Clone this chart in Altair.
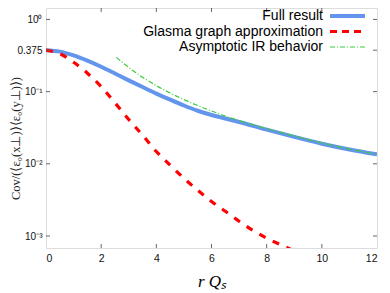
import altair as alt
import pandas as pd

# ---- data ----
full_x = [0, 0.5, 1, 1.5, 2, 2.5, 3, 3.5, 4, 4.5, 5, 5.5, 6, 6.5, 7, 8, 9, 10, 11, 12]
full_y = [0.375, 0.358, 0.317, 0.2685, 0.221, 0.1784, 0.1433, 0.1156, 0.094, 0.0774,
          0.0642, 0.0543, 0.0475, 0.0425, 0.0380, 0.0298, 0.0236, 0.0190, 0.0158, 0.0135]

glasma_x = [0, 0.5, 1, 1.5, 2, 2.5, 3, 3.5, 4, 4.5, 5, 5.5, 6, 6.5, 7, 7.5, 8, 8.5, 9]
glasma_y = [0.375, 0.335, 0.255, 0.18, 0.117, 0.07, 0.041, 0.025, 0.0148, 0.0096, 0.0063,
            0.0043, 0.003, 0.0022, 0.0016, 0.0012, 0.00093, 0.00076, 0.00062]

asym_x = [2.55, 3, 3.5, 4, 4.5, 5, 5.5, 6, 6.5, 7, 8, 9, 10, 11, 12]
asym_y = [0.2985, 0.216, 0.158, 0.121, 0.0958, 0.0776, 0.0641, 0.0539, 0.0459, 0.0396,
          0.0308, 0.0243, 0.0195, 0.0160, 0.0136]

series_names = ["Full result", "Glasma graph approximation", "Asymptotic IR behavior"]
series_colors = ["#6495ED", "#FF0000", "#3DCB3D"]

x_ticks = [0, 2, 4, 6, 8, 10, 12]
y_ticks = [1, 0.375, 0.1, 0.01, 0.001]
y_tick_labels = ["10⁰", "0.375", "10⁻¹", "10⁻²", "10⁻³"]

W, H = 331, 240
x_dom = [0, 12]
y_dom = [6.82e-4, 1.44]

xs = alt.Scale(domain=x_dom, nice=False, zero=False)
ys = alt.Scale(type="log", domain=y_dom, nice=False)

label_expr = " : ".join(
    [f"datum.value == {v} ? '{l}'" for v, l in zip(y_ticks, y_tick_labels)]
) + " : ''"

full = pd.DataFrame({"x": full_x, "y": full_y})
glasma = pd.DataFrame({"x": glasma_x, "y": glasma_y})
asym = pd.DataFrame({"x": asym_x, "y": asym_y})

xaxis = alt.Axis(values=x_ticks, title="r Qₛ", titleFont="Liberation Serif",
                 titleFontStyle="italic", titleFontWeight="normal", titleFontSize=17,
                 titlePadding=10, labelFont="Liberation Sans", labelFontSize=10.5,
                 labelColor="#111", labelPadding=5, ticks=False, domain=False, grid=False)
yaxis = alt.Axis(values=y_ticks, labelExpr=label_expr,
                 title="Cov/(⟨ε₀(x⊥)⟩⟨ε₀(y⊥)⟩)", titleFont="Liberation Serif",
                 titleFontWeight="normal", titleFontSize=12.5, titleColor="#222",
                 titleX=-31, titleY=130, titleBaseline="middle",
                 labelFont="Liberation Sans", labelFontSize=10, labelColor="#111",
                 labelPadding=4, ticks=False, domain=False, grid=False)

line_full = alt.Chart(full).mark_line(color=series_colors[0], strokeWidth=4, clip=True,
                                      interpolate="monotone").encode(
    x=alt.X("x:Q", scale=xs, axis=xaxis), y=alt.Y("y:Q", scale=ys, axis=yaxis))
line_glasma = alt.Chart(glasma).mark_line(color=series_colors[1], strokeWidth=3.2,
                                           strokeDash=[7, 8], clip=True,
                                           interpolate="monotone").encode(
    x=alt.X("x:Q", scale=xs), y=alt.Y("y:Q", scale=ys))
line_asym = alt.Chart(asym).mark_line(color=series_colors[2], strokeWidth=1.2,
                                       strokeDash=[5, 2, 1, 2], clip=True,
                                       interpolate="monotone").encode(
    x=alt.X("x:Q", scale=xs), y=alt.Y("y:Q", scale=ys))

# inward ticks on all four sides
yt = pd.DataFrame({"v": y_ticks})
xt = pd.DataFrame({"v": x_ticks[1:-1]})
tick_col = "#666"
tl = alt.Chart(yt).mark_rule(color=tick_col, strokeWidth=1).encode(
    y=alt.Y("v:Q", scale=ys), x=alt.value(0), x2=alt.value(4))
tr = alt.Chart(yt).mark_rule(color=tick_col, strokeWidth=1).encode(
    y=alt.Y("v:Q", scale=ys), x=alt.value(W - 4), x2=alt.value(W))
tb = alt.Chart(xt).mark_rule(color=tick_col, strokeWidth=1).encode(
    x=alt.X("v:Q", scale=xs), y=alt.value(H - 4), y2=alt.value(H))
ttop = alt.Chart(xt).mark_rule(color=tick_col, strokeWidth=1).encode(
    x=alt.X("v:Q", scale=xs), y=alt.value(0), y2=alt.value(4))

# legend (labels right-aligned, samples on the right)
leg_rows = [8, 23.5, 39]
leg_layers = []
styles = [dict(strokeWidth=4), dict(strokeWidth=3.2, strokeDash=[7, 5]),
          dict(strokeWidth=1.2, strokeDash=[5, 2, 1, 2])]
for name, col, row, st in zip(series_names, series_colors, leg_rows, styles):
    d = pd.DataFrame({"label": [name]})
    leg_layers.append(alt.Chart(d).mark_text(align="right", baseline="middle",
                                             font="Liberation Sans", fontSize=14,
                                             color="#000").encode(
        text="label:N", x=alt.value(277), y=alt.value(row)))
    leg_layers.append(alt.Chart(d).mark_rule(color=col, **st).encode(
        x=alt.value(284), x2=alt.value(319), y=alt.value(row)))

chart = alt.layer(line_full, line_glasma, line_asym, tl, tr, tb, ttop, *leg_layers).properties(
    width=W, height=H, autosize=alt.AutoSizeParams(type="none"),
    padding={"left": 38, "top": 0, "right": 5, "bottom": 45}
).configure_view(stroke="#666", strokeWidth=1.2).configure(background="white")

chart.save("out.html", embed_options={"renderer": "svg", "actions": False})
